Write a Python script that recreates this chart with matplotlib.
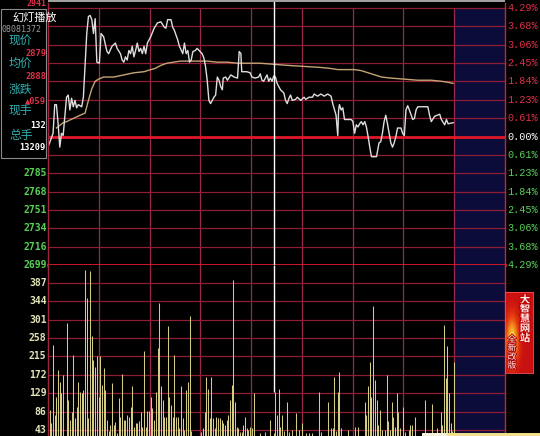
import numpy as np
import matplotlib
matplotlib.use('Agg')
import matplotlib.pyplot as plt
from matplotlib.patches import Rectangle
from matplotlib.transforms import blended_transform_factory
import matplotlib.patheffects as pe

plt.rcParams['font.family'] = ['DejaVu Sans', 'Noto Sans CJK SC']

# ---- data ----
prev_close = 2820
left_labels = ['2699', '2716', '2734', '2751', '2768', '2785', '2802', '2820',
               '2837', '2855', '2872', '2889', '2906', '2924', '2941']
pct_labels = ['4.29%', '3.68%', '3.06%', '2.45%', '1.84%', '1.23%', '0.61%', '0.00%',
              '0.61%', '1.23%', '1.84%', '2.45%', '3.06%', '3.68%', '4.29%']
vol_ticks = [43, 86, 129, 172, 215, 258, 301, 344, 387]

price_min = [0, 3, 4, 5, 6, 7, 8, 9,
             11, 12, 13, 14, 15, 16, 17, 18,
             20, 21, 23, 24, 25, 26, 27, 28, 29,
             30.5, 31.5, 33, 35, 36, 38, 40, 41, 43, 44,
             45, 46, 47, 48, 49, 50, 51, 52, 53, 54,
             55, 56, 57, 58, 59, 61, 63, 65, 67, 69,
             70, 71, 73, 74, 75, 77, 78, 80, 81, 82,
             83, 84, 85, 86, 87.5, 88.5, 91.5, 92.5, 93.5, 94.5,
             95.5, 96.5, 98.5, 99.5, 100.5, 101.5, 102.5, 103.5, 104, 105.5,
             106.5, 108.5, 110.5, 112.5, 113.5, 114.5, 115, 118, 120, 121,
             123, 125, 126, 127, 128, 129, 130, 131, 132, 133,
             134, 135, 136, 137, 138, 140, 141, 142, 143, 144,
             145, 147, 148, 150, 152, 153, 155, 157, 158, 160,
             162, 164, 166, 168, 169, 171, 172, 172.5, 173, 174,
             175, 176, 180, 181, 182, 183, 184, 185, 186, 187,
             188, 189, 190, 191, 192, 195, 196.5, 197.5, 198.5, 199.5,
             200.5, 201.5, 202.5, 203.5, 204.5, 205.5, 206.5, 207.5, 209.5, 210.5,
             211.5, 212.5, 213.5, 214.5, 216.5, 217.5, 218.5, 219.5, 225.5, 226.5,
             227.5, 229.5, 232.5, 233.5, 235.5, 236.5, 237.5, 240.5]
prices = [2810, 2823, 2850, 2850, 2832, 2810, 2823, 2821,
          2857, 2859, 2845, 2856, 2848, 2854, 2847, 2850,
          2848, 2857, 2917, 2933, 2934, 2930, 2917, 2931, 2890,
          2889, 2917, 2914, 2900, 2898, 2905, 2908, 2903, 2898, 2892,
          2890, 2895, 2892, 2901, 2898, 2905, 2895, 2901, 2908, 2900,
          2903, 2898, 2905, 2898, 2908, 2914, 2922, 2927, 2928, 2923,
          2922, 2930, 2930, 2923, 2920, 2911, 2905, 2898, 2908, 2898,
          2901, 2890, 2892, 2900, 2901, 2903, 2898, 2894, 2886, 2873,
          2854, 2851, 2857, 2859, 2876, 2873, 2867, 2864, 2875, 2876,
          2873, 2878, 2876, 2875, 2900, 2898, 2881, 2881, 2880, 2876,
          2875, 2876, 2879, 2873, 2872, 2875, 2878, 2872, 2875, 2872,
          2877, 2876, 2870, 2867, 2864, 2861, 2854, 2851, 2856, 2859,
          2854, 2855, 2857, 2854, 2857, 2855, 2857, 2857, 2860, 2858,
          2860, 2858, 2860, 2858, 2851, 2840, 2821, 2845, 2850, 2845,
          2847, 2836, 2836, 2834, 2823, 2831, 2829, 2832, 2834, 2831,
          2834, 2829, 2820, 2810, 2801, 2801, 2814, 2815, 2823, 2834,
          2840, 2832, 2823, 2814, 2810, 2814, 2820, 2828, 2828, 2823,
          2821, 2845, 2849, 2845, 2836, 2837, 2845, 2848, 2848, 2840,
          2834, 2839, 2841, 2836, 2831, 2836, 2832, 2833]

avg_min = [5, 9, 11, 15, 19, 22, 24, 26, 28, 30,
           33, 39, 45, 51, 57, 61, 63.5, 67, 70.5, 74.5,
           78.5, 82.5, 90.5, 94.5, 100.5, 106.5, 112.5, 120, 126, 134,
           142, 152, 162, 168, 172, 182, 186, 190, 194, 198,
           203.5, 211.5, 219.5, 227.5, 233.5, 237.5, 240.5]
avg_val = [2828, 2833, 2834, 2837, 2840, 2842, 2854, 2865, 2872, 2874,
           2876, 2876, 2878, 2880, 2881, 2883, 2884, 2887, 2889, 2890,
           2891, 2891, 2891, 2891, 2890, 2890, 2889, 2889, 2889, 2888,
           2887, 2886, 2885, 2884, 2883, 2883, 2882, 2880, 2878, 2876,
           2875, 2874, 2873, 2873, 2872, 2871, 2870]

volumes = [70, 90, 60, 242, 78, 121, 184, 156, 129, 172,
           30, 293, 113, 66, 86, 219, 71, 98, 156, 133,
           129, 137, 418, 352, 70, 414, 262, 207, 191, 215,
           121, 216, 149, 188, 137, 66, 40, 55, 153, 55,
           62, 35, 117, 74, 174, 67, 67, 78, 74, 98,
           145, 51, 59, 59, 63, 86, 51, 227, 51, 88,
           88, 121, 94, 67, 131, 235, 340, 145, 113, 74,
           74, 287, 121, 102, 74, 219, 74, 74, 47, 145,
           70, 43, 137, 156, 309, 40, 30, 25, 25, 25,
           30, 39, 47, 86, 168, 139, 70, 168, 70, 47,
           74, 70, 70, 67, 59, 55, 67, 78, 113, 149,
           395, 109, 51, 47, 39, 39, 55, 74, 47, 43,
           51, 47, 129, 25, 25, 30, 36, 25, 30, 39,
           25, 30, 67, 30, 35, 133, 78, 139, 51, 78,
           40, 30, 108, 39, 30, 43, 30, 82, 30, 43,
           30, 59, 30, 35, 30, 35, 30, 35, 30, 30,
           30, 131, 39, 30, 30, 30, 108, 30, 47, 47,
           166, 40, 131, 178, 47, 30, 30, 30, 43, 30,
           30, 30, 51, 30, 51, 30, 30, 30, 109, 78,
           145, 201, 121, 332, 159, 113, 55, 90, 43, 30,
           43, 172, 63, 43, 108, 74, 51, 129, 86, 47,
           30, 98, 39, 30, 43, 55, 55, 30, 74, 25,
           25, 25, 25, 25, 113, 36, 25, 25, 105, 36,
           25, 47, 30, 86, 55, 289, 165, 240, 129, 60,
           40, 203]

info_labels = ['现价', '均价', '涨跌', '现手', '总手']
info_values = ['2879', '2888', '▲059', '132', '13209']
cursor_min = 134.2

# ---- layout helpers (pixel -> figure fraction) ----
W, H = 540, 436
def fx(px):
    return px / W
def fy(py):
    return 1 - py / H

RED = '#e03048'
GREEN = '#58d058'
GRID = '#8e1e36'
VGRID = '#9c2848'
BRIGHT = '#e01828'
NAVY = '#0c0c3a'

fig = plt.figure(figsize=(5.4, 4.36), dpi=100, facecolor='black')
x0, x1 = 48, 505
ax_p = fig.add_axes([fx(x0), fy(265), fx(x1) - fx(x0), fy(8) - fy(265)])
ax_v = fig.add_axes([fx(x0), fy(436), fx(x1) - fx(x0), fy(265) - fy(436)])
x_end = (x1 - x0) * 241 / (454 - x0)

for ax in (ax_p, ax_v):
    ax.set_facecolor('black')
    ax.set_xlim(0, x_end)
    ax.axvspan(241, x_end, color=NAVY, zorder=0, lw=0)
    for s in ax.spines.values():
        s.set_visible(False)
    ax.set_xticks([])
    ax.set_yticks([])
    for i in range(1, 9):
        ax.axvline(i * 241 / 8, color=VGRID, lw=0.9, zorder=1)

# price panel
lo, hi = float(left_labels[0]), float(left_labels[-1])
ax_p.set_ylim(lo, hi)
levels = np.linspace(lo, hi, len(left_labels))
for i, v in enumerate(levels):
    if i == 7:
        ax_p.axhline(v, color=BRIGHT, lw=2.0, zorder=1)
    elif i == 0:
        ax_p.axhline(v, color=BRIGHT, lw=2.0, zorder=1, clip_on=False)
    else:
        ax_p.axhline(v, color=GRID, lw=0.9, zorder=1, clip_on=False)

ax_p.plot(avg_min, avg_val, color='#c4a474', lw=1.0, zorder=3)
ax_p.plot(price_min, prices, color='#dedede', lw=1.0, zorder=4)
ax_p.axvline(cursor_min, ymin=0, ymax=1 + 6 / 257, color='white', lw=1.0,
             zorder=5, clip_on=False)

tl = blended_transform_factory(fig.transFigure, ax_p.transData)
for i, (v, lab, pl) in enumerate(zip(levels, left_labels, pct_labels[::-1])):
    c = RED if i > 7 else ('white' if i == 7 else GREEN)
    ax_p.text(fx(507), v, pl, transform=tl, ha='left', va='center', color=c,
              fontsize=7.3, family='Liberation Mono')
    # the quote box hides the middle of the left scale
    if i <= 5:
        ax_p.text(fx(46.5), v, lab, transform=tl, ha='right', va='center', color=c,
                  fontsize=7, family='DejaVu Sans Mono', fontweight='bold')
    elif i == len(levels) - 1:
        ax_p.text(fx(46.5), v, lab, transform=tl, ha='right', va='bottom', color=c,
                  fontsize=6, family='DejaVu Sans Mono', fontweight='bold')

# volume panel
ax_v.set_ylim(29, 429)
for v in vol_ticks:
    ax_v.axhline(v, color=GRID, lw=0.9, zorder=1)
ax_v.vlines(range(len(volumes)), 0, volumes, color='#d4cc84', lw=0.75, zorder=2)
ax_v.vlines(cursor_min, 132, 429, color='white', lw=1.0, zorder=5)
tv = blended_transform_factory(fig.transFigure, ax_v.transData)
for v in vol_ticks:
    ax_v.text(fx(46.5), v, str(v), transform=tv, ha='right', va='center',
              color='#e4e4b8', fontsize=7, family='DejaVu Sans Mono', fontweight='bold')

# borders
for px, c in ((48, '#a02640'), (505, '#c02838')):
    fig.add_artist(plt.Line2D([fx(px), fx(px)], [fy(436), fy(3)], color=c, lw=1.0,
                              transform=fig.transFigure, zorder=4))
fig.add_artist(Rectangle((fx(48), fy(2.5)), fx(505) - fx(48), 2.5 / H,
                         transform=fig.transFigure, color='#a0a0a0', lw=0, zorder=4))

# info box
fig.add_artist(Rectangle((fx(1), fy(158)), fx(46) - fx(1), fy(9) - fy(158),
                         transform=fig.transFigure, facecolor='black',
                         edgecolor='#8a8a8a', lw=0.8, zorder=10))
fig.text(fx(12), fy(17.5), '幻灯播放', color='white', fontsize=8,
         family='Noto Sans CJK SC', ha='left', va='center', zorder=12)
fig.text(fx(1.5), fy(30), '08081372', color='#9a9a9a', fontsize=6,
         family='DejaVu Sans Mono', ha='left', va='center', zorder=12)
for lab, py in zip(info_labels, [41, 63, 89, 111, 136]):
    fig.text(fx(9), fy(py), lab, color='#30b0b0', fontsize=8.5,
             family='Noto Sans CJK SC', ha='left', va='center', zorder=12)
for val, py, c in zip(info_values, [53, 76, 101, 125, 148],
                      [RED, RED, RED, 'white', 'white']):
    fig.text(fx(46), fy(py), val, color=c, fontsize=6.2, fontweight='bold',
             family=['DejaVu Sans Mono', 'DejaVu Sans'], ha='right', va='center', zorder=12)

# banner on the right
bx = fig.add_axes([fx(505), fy(373), fx(533) - fx(505), fy(292) - fy(373)], zorder=6)
gx, gy = np.meshgrid(np.linspace(0, 1, 40), np.linspace(0, 1, 100))
glow = np.exp(-((gx - 0.25) ** 2 / 0.05 + (gy - 0.6) ** 2 / 0.08))
cmap = matplotlib.colors.LinearSegmentedColormap.from_list(
    'glow', ['#c81010', '#e84010', '#f09020', '#f8e040'])
bx.imshow(glow, cmap=cmap, aspect='auto', extent=(0, 1, 0, 1))
bx.set_xticks([])
bx.set_yticks([])
for s in bx.spines.values():
    s.set_color('#ff5050')
    s.set_linewidth(0.6)
fig.text(fx(525), fy(295), '大\n智\n慧\n网\n站', color='#fff0f0', fontsize=7.5,
         family='Noto Sans CJK SC', ha='center', va='top', linespacing=0.95,
         fontweight='bold', zorder=13,
         path_effects=[pe.withStroke(linewidth=1.6, foreground='#c00000')])
fig.text(fx(512), fy(335), '全\n新\n改\n版', color='#fff4f4', fontsize=6.3,
         family='Noto Sans CJK SC', ha='center', va='top', linespacing=0.95, zorder=13,
         path_effects=[pe.withStroke(linewidth=1.2, foreground='#b00000')])

# bottom status strip
fig.add_artist(Rectangle((fx(422), 0), fx(447) - fx(422), 3.5 / H,
                         transform=fig.transFigure, color='#f4f0dc', lw=0, zorder=9))
fig.add_artist(Rectangle((fx(447), 0), fx(540) - fx(447), 3.5 / H,
                         transform=fig.transFigure, color='#f0e08c', lw=0, zorder=9))

fig.savefig('out.png', dpi=100, facecolor='black')
